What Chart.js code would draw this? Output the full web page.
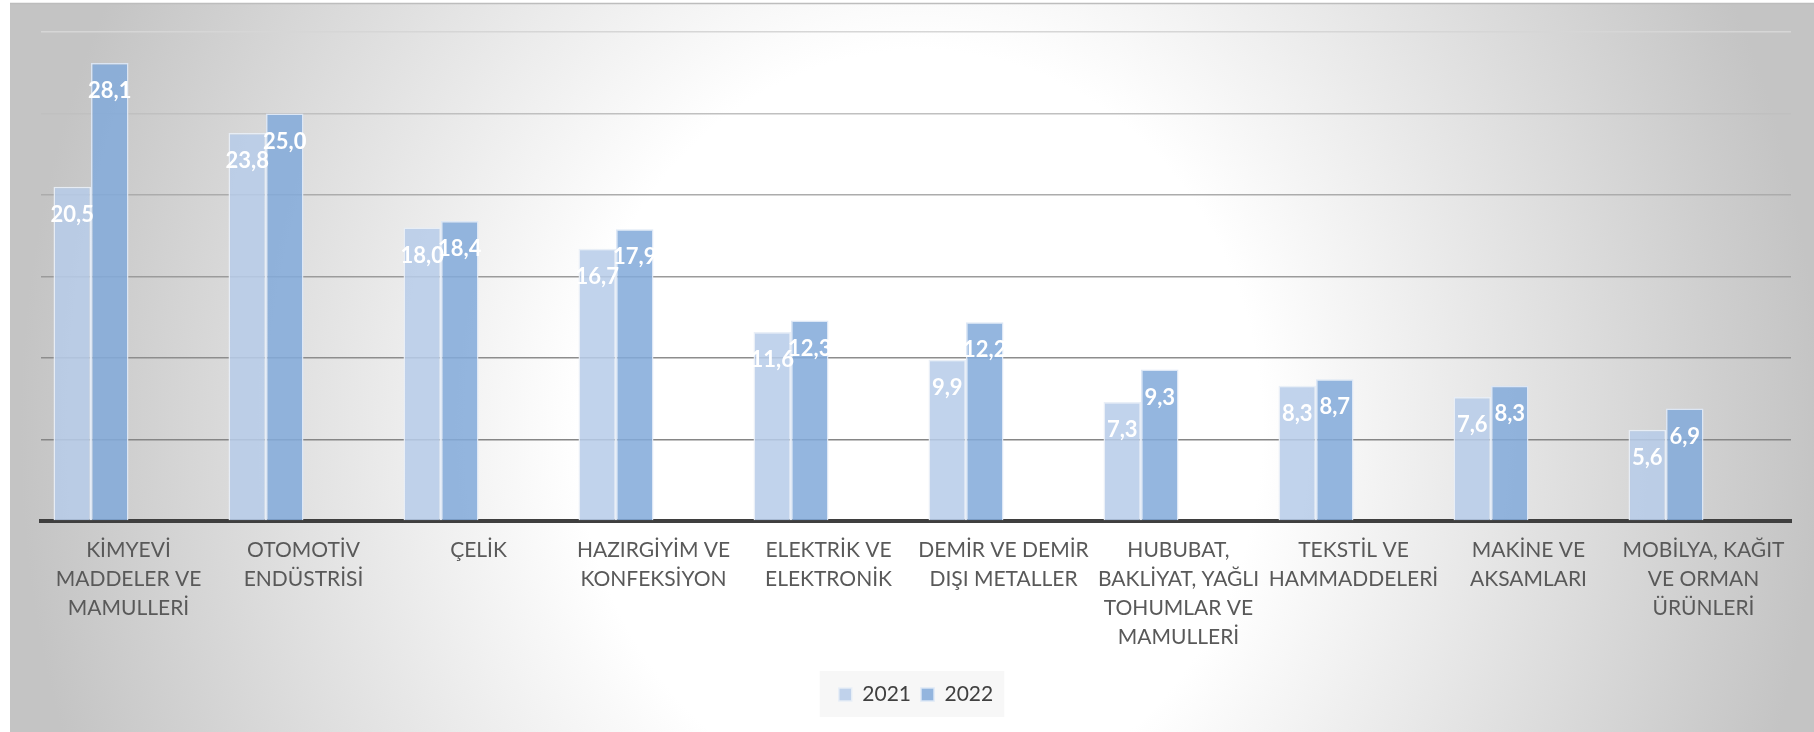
<!DOCTYPE html>
<html>
<head>
<meta charset="utf-8">
<script src="https://cdn.jsdelivr.net/npm/chart.js@4.4.1/dist/chart.umd.min.js"></script>
<style>
  html, body { margin: 0; padding: 0; background: #ffffff; }
  #wrap { width: 1814px; height: 732px; position: relative; }
</style>
</head>
<body>
<div id="wrap"><canvas id="c" width="1814" height="732"></canvas></div>
<script>
// ---- data ----
const categories = [
  ["KİMYEVİ", "MADDELER VE", "MAMULLERİ"],
  ["OTOMOTİV", "ENDÜSTRİSİ"],
  ["ÇELİK"],
  ["HAZIRGİYİM VE", "KONFEKSİYON"],
  ["ELEKTRİK VE", "ELEKTRONİK"],
  ["DEMİR VE DEMİR", "DIŞI METALLER"],
  ["HUBUBAT,", "BAKLİYAT, YAĞLI", "TOHUMLAR VE", "MAMULLERİ"],
  ["TEKSTİL VE", "HAMMADDELERİ"],
  ["MAKİNE VE", "AKSAMLARI"],
  ["MOBİLYA, KAĞIT", "VE ORMAN", "ÜRÜNLERİ"]
];
const seriesNames = ["2021", "2022"];
const values2021 = [20.5, 23.8, 18.0, 16.7, 11.6, 9.9, 7.3, 8.3, 7.6, 5.6];
const values2022 = [28.1, 25.0, 18.4, 17.9, 12.3, 12.2, 9.3, 8.7, 8.3, 6.9];
const yMin = 0, yMax = 30, yStep = 5;

// ---- styling helpers ----
const FONT = "Lato, 'Open Sans', sans-serif";
const gridColors = { 0: 'rgba(0,0,0,0)', 5: '#868686', 10: '#8d8d8d', 15: '#9b9b9b', 20: '#acacac', 25: '#c0c0c0', 30: '#d6d6d6' };

const backgroundPlugin = {
  id: 'bgGradient',
  beforeDraw(chart) {
    const { ctx, width, height } = chart;
    ctx.save();
    ctx.fillStyle = '#ffffff';
    ctx.fillRect(0, 0, width, height);
    const x0 = 10, y0 = 3;
    ctx.save();
    ctx.beginPath();
    ctx.rect(x0, y0, width - x0, height - y0);
    ctx.clip();
    const cx = 920, cy = 430, rx = 900, ry = 1000;
    ctx.translate(cx, cy);
    ctx.scale(1, ry / rx);
    const g = ctx.createRadialGradient(0, 0, 0, 0, 0, rx);
    g.addColorStop(0, '#ffffff');
    g.addColorStop(0.38, '#ffffff');
    g.addColorStop(1, '#c4c4c4');
    ctx.fillStyle = g;
    ctx.fillRect(-3000, -3000, 6000, 6000);
    ctx.restore();
    // top edge line
    ctx.strokeStyle = '#bdbdbd';
    ctx.lineWidth = 1.5;
    ctx.beginPath();
    ctx.moveTo(x0, y0 + 0.5);
    ctx.lineTo(width, y0 + 0.5);
    ctx.stroke();
    // legend background panel
    const hb = chart.legend && chart.legend.legendHitBoxes;
    if (hb && hb.length) {
      const first = hb[0], last = hb[hb.length - 1];
      const l = first.left - 19, r = last.left + last.width + 11;
      const t = first.top - 13, b = first.top + first.height + 12;
      ctx.fillStyle = '#f7f7f7';
      ctx.fillRect(l, t, r - l, b - t);
    }
    ctx.restore();
  }
};

const valueLabelPlugin = {
  id: 'valueLabels',
  afterDatasetsDraw(chart) {
    const ctx = chart.ctx;
    ctx.save();
    ctx.font = "bold 22px " + FONT;
    ctx.fillStyle = '#ffffff';
    ctx.textAlign = 'center';
    ctx.textBaseline = 'middle';
    chart.data.datasets.forEach((ds, i) => {
      const meta = chart.getDatasetMeta(i);
      meta.data.forEach((bar, j) => {
        const v = ds.data[j];
        if (v == null) return;
        ctx.fillText(v.toFixed(1).replace('.', ','), bar.x, bar.y + 28);
      });
    });
    ctx.restore();
  }
};

Chart.defaults.font.family = FONT;

new Chart(document.getElementById('c'), {
  type: 'bar',
  data: {
    labels: categories,
    datasets: [
      { label: seriesNames[0], data: values2021,
        backgroundColor: 'rgba(183,204,233,0.86)', borderColor: 'rgba(232,238,247,0.95)', borderWidth: 1.5 },
      { label: seriesNames[1], data: values2022,
        backgroundColor: 'rgba(130,170,218,0.86)', borderColor: 'rgba(220,231,245,0.95)', borderWidth: 1.5 },
      // two empty placeholder series (as in the source chart), reserving slots in each group
      { label: '', data: [], backgroundColor: 'rgba(0,0,0,0)' },
      { label: '', data: [], backgroundColor: 'rgba(0,0,0,0)' }
    ]
  },
  options: {
    responsive: false,
    animation: false,
    devicePixelRatio: 1,
    layout: { padding: { left: 41, right: 23, top: 32, bottom: 17 } },
    datasets: { bar: { categoryPercentage: 0.857, barPercentage: 1.0 } },
    scales: {
      x: {
        grid: { display: false, drawTicks: false },
        border: { display: true, color: '#3f3f3f', width: 4 },
        ticks: {
          autoSkip: false, maxRotation: 0, minRotation: 0,
          color: '#595959', padding: 15,
          font: { family: FONT, size: 21, lineHeight: '29px' }
        },
        afterFit(scale) { scale.height = 153; }
      },
      y: {
        min: yMin, max: yMax,
        ticks: { display: false, stepSize: yStep },
        border: { display: false },
        grid: {
          drawTicks: false,
          lineWidth: 1.6,
          color: (c) => gridColors[c.tick && c.tick.value] || '#a0a0a0'
        }
      }
    },
    plugins: {
      tooltip: { enabled: false },
      legend: {
        position: 'bottom',
        labels: {
          boxWidth: 13, boxHeight: 13, padding: 10,
          color: '#404040',
          font: { family: FONT, size: 21 },
          filter: (item) => item.text !== ''
        }
      }
    }
  },
  plugins: [backgroundPlugin, valueLabelPlugin]
});
</script>
</body>
</html>
